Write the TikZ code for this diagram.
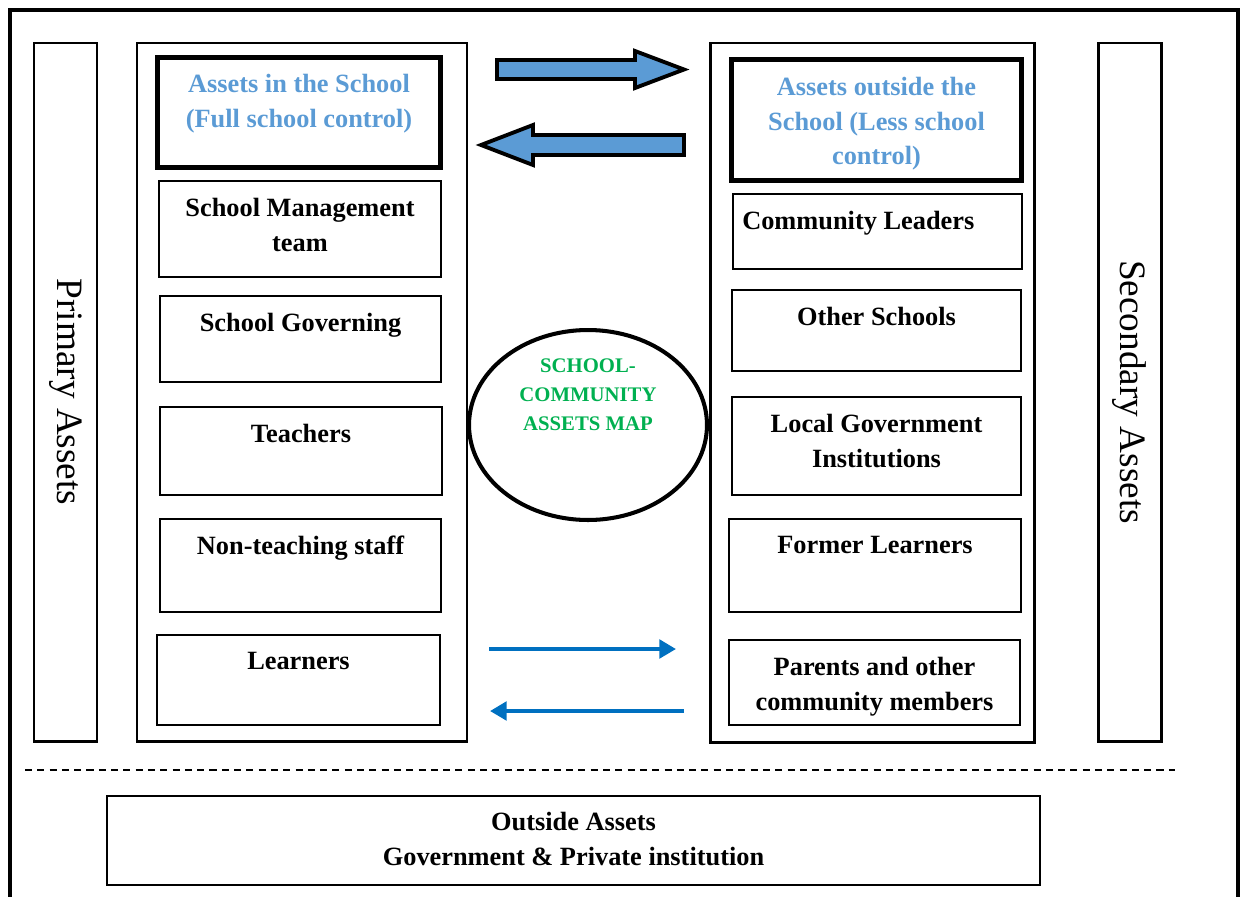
\documentclass[tikz,border=0pt]{standalone}
\usepackage{fontspec}
\setmainfont{Liberation Serif}
\usetikzlibrary{positioning,fit,shapes.geometric,arrows.meta}
\definecolor{headblue}{HTML}{5B9BD5}
\definecolor{arrowblue}{HTML}{0070C0}
\definecolor{mapgreen}{HTML}{00B050}
\tikzset{
	box/.style={draw, line width=0.85pt, inner sep=0pt},
	colbox/.style={draw, line width=1.7pt, inner sep=0pt},
	headbox/.style={draw, line width=2.8pt, inner sep=0pt},
	lbl/.style={font=\bfseries\fontsize{15}{19.8}\selectfont, align=center, inner sep=0pt},
	headlbl/.style={lbl, text=headblue},
	sidelbl/.style={font=\fontsize{21.2}{24}\selectfont, inner sep=0pt, rotate=-90},
	maplbl/.style={font=\bfseries\fontsize{11.8}{16.4}\selectfont, align=center, inner sep=0pt, text=mapgreen},
	blockarrow/.style={fill=headblue, draw, line width=2.2pt, miter limit=20},
	thinarrow/.style={draw=arrowblue, line width=2.3pt, -{Triangle[length=9.5pt,width=10.5pt]}}
}
\begin{document}
\begin{tikzpicture}[x=0.02cm, y=-0.02cm]
	\useasboundingbox (0,0) rectangle (1244,896);
	\clip (0,0) rectangle (1244,896);
	
	\draw[line width=2.3pt] (10,10) rectangle (1238,920);
	
	%colonne
	\node[colbox, fit={(34,43) (97,741)}] (primary) {};
	\node[sidelbl] at (primary.center) {Primary Assets};
	\node[colbox, fit={(137,43) (467,741)}] (inside) {};
	\node[colbox, fit={(710,43) (1034,742)}] (outside) {};
	\node[colbox, fit={(1098,43) (1161,741)}] (secondary) {};
	\node[sidelbl] at (secondary.center) {Secondary Assets};
	
	%scuola
	\node[headbox, fit={(157.5,57.5) (440.5,167.5)}] (inhead) {};
	\node[headlbl, below=10.8pt of inhead.north] {Assets in the School\\(Full school control)};
	\node[box, fit={(159,181) (441,277)}] (smt) {};
	\node[lbl, below=10pt of smt.north] {School Management\\team};
	\node[box, fit={(160,296) (441,382)}] (sgb) {};
	\node[lbl, below=10pt of sgb.north] {School Governing};
	\node[box, fit={(160,407) (442,495)}] (teach) {};
	\node[lbl, below=10pt of teach.north] {Teachers};
	\node[box, fit={(160,519) (441,612)}] (staff) {};
	\node[lbl, below=10pt of staff.north] {Non-teaching staff};
	\node[box, fit={(157,635) (440,725)}] (learn) {};
	\node[lbl, below=10pt of learn.north] {Learners};
	
	%comunita
	\node[headbox, fit={(731.5,59.5) (1021.5,180.5)}] (outhead) {};
	\node[headlbl, below=11.2pt of outhead.north] {Assets outside the\\School (Less school\\control)};
	\node[box, fit={(733,194) (1022,269)}] (leaders) {};
	\node[lbl, below right=10pt and 5.5pt of leaders.north west] {Community Leaders};
	\node[box, fit={(732,290) (1021,371)}] (schools) {};
	\node[lbl, below=10pt of schools.north] {Other Schools};
	\node[box, fit={(732,397) (1021,495)}] (govinst) {};
	\node[lbl, below=10pt of govinst.north] {Local Government\\Institutions};
	\node[box, fit={(729,519) (1021,612)}] (former) {};
	\node[lbl, below=10pt of former.north] {Former Learners};
	\node[box, fit={(729,640) (1020,725)}] (parents) {};
	\node[lbl, below=10pt of parents.north] {Parents and other\\community members};
	
	%mappa
	\node[draw, ellipse, line width=2.3pt, inner sep=0pt, minimum width=4.76cm, minimum height=3.8cm] (map) at (588,425) {};
	\node[maplbl] at (588,395) {SCHOOL-\\COMMUNITY\\ASSETS MAP};
	
	\filldraw[blockarrow] (497,60) -- (635,60) -- (635,51) -- (684,69.5)
		-- (635,88) -- (635,79) -- (497,79) -- cycle;
	\filldraw[blockarrow] (684,135) -- (533,135) -- (533,125) -- (481,145)
		-- (533,165) -- (533,155) -- (684,155) -- cycle;
	
	\coordinate (ra) at (489,649);
	\coordinate (rb) at (676,649);
	\coordinate (la) at (684,711);
	\coordinate (lb) at (490,711);
	\draw[thinarrow] (ra) -- (rb);
	\draw[thinarrow] (la) -- (lb);
	
	\draw[line width=1.1pt, dash pattern=on 4pt off 3pt] (25,770) -- (1175,770);
	
	\node[box, fit={(107,796) (1040,885)}] (extern) {};
	\node[lbl, below=9.4pt of extern.north] {Outside Assets\\Government \& Private institution};
\end{tikzpicture}
\end{document}
